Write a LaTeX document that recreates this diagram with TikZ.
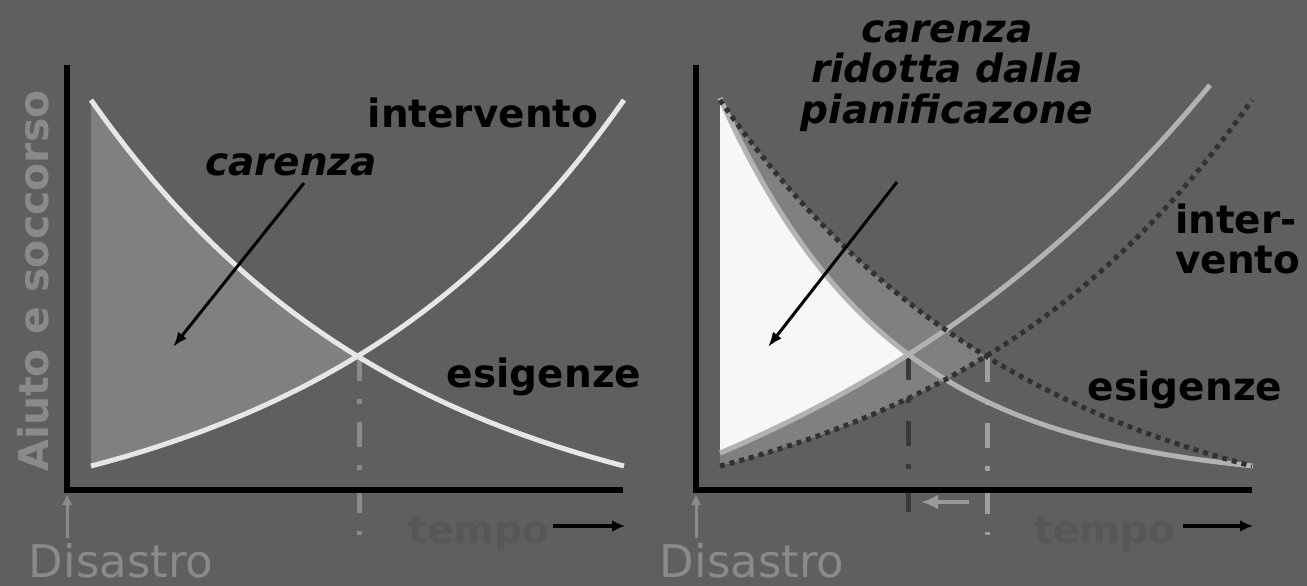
\documentclass[tikz,border=0pt]{standalone}
\usepackage{fontspec}
\setmainfont{DejaVu Sans}[ItalicFont={* Oblique},BoldFont={* Bold},BoldItalicFont={* Bold Oblique}]
\usepackage{tikz}
\usetikzlibrary{arrows.meta,positioning}

\definecolor{bgGray}{RGB}{95,95,95}
\definecolor{gapGray}{RGB}{128,128,128}
\definecolor{curveWhite}{RGB}{230,230,230}
\definecolor{planGray}{RGB}{178,178,178}
\definecolor{baseDark}{RGB}{50,50,50}
\definecolor{faintGray}{RGB}{138,138,138}
\definecolor{tempoGray}{RGB}{87,87,87}

\begin{document}
\begin{tikzpicture}[x=1pt, y=-1pt,
    every node/.style={inner sep=0pt, font=\bfseries\fontsize{39}{40}\selectfont},
    declare function={
        decay(\s,\q)=(exp(-\q*\s)-exp(-\q))/(1-exp(-\q));
        grow(\s,\q)=(exp(\q*\s)-1)/(exp(\q)-1);
        needL(\x)=466-366*decay((\x-91)/533,1.695);
        aidL(\x)=466-366*decay((624-\x)/533,1.695);
        needPlan(\x)=466-368*decay((\x-720)/533,3.1);
        aidPlan(\x)=453-368*grow((\x-720)/490,1.05);
        needBase(\x)=466-366*decay((\x-720)/532,1.695);
        aidBase(\x)=466-366*decay((1252-\x)/532,1.695);
    },
    axis/.style={line width=5.5pt},
    curveL/.style={curveWhite, line width=5pt},
    curvePlan/.style={planGray, line width=5pt},
    curveBase/.style={baseDark, line width=5pt, dash pattern=on 5pt off 5pt},
    guide/.style={line width=5pt, dash pattern=on 25pt off 18pt on 5pt off 18pt},
    arr/.style={-{Latex[length=15pt,width=11pt]}, line width=3pt},
    timeArr/.style={-{Latex[length=13pt,width=12pt]}, line width=4pt},
    disArr/.style={faintGray, -{Latex[length=11pt,width=11pt]}, line width=3pt},
    lblit/.style={font=\bfseries\itshape\fontsize{39}{40}\selectfont},
    faint/.style={faintGray, font=\fontsize{45}{46}\selectfont}]

    % background and page size
    \fill[bgGray] (0,0) rectangle (1307,586);
    \useasboundingbox (0,0) rectangle (1307,586);

    % ---- left panel: shortage area
    \fill[gapGray] plot[domain=91:357.5, samples=60] (\x,{needL(\x)})
        -- plot[domain=357.5:91, samples=60] (\x,{aidL(\x)}) -- cycle;
    \coordinate (crossL) at (359,356);
    \draw[guide, faintGray] (crossL) -- (359,535);

    % needs and relief curves
    \draw[curveL] plot[domain=91:624, samples=100] (\x,{needL(\x)});
    \draw[curveL] plot[domain=91:624, samples=100] (\x,{aidL(\x)});

    % axes
    \draw[axis] (67,65) |- (623,490);

    % labels
    \node[rotate=90, faintGray, font=\bfseries\fontsize{41}{42}\selectfont] (aiuto) at (33,281) {Aiuto e soccorso};
    \node[anchor=base] (intervL) at (483,128) {intervento};
    \node[lblit, anchor=base] (carL) at (291,175) {carenza};
    \node[anchor=base] (esigL) at (544,387) {esigenze};
    \node[tempoGray, anchor=base] (tempoL) at (479,543) {tempo};
    \node[faint, anchor=base] (disL) at (121,577) {Disastro};

    \coordinate (carFromL) at (304,183);
    \coordinate (carToL) at (173,347);
    \draw[arr] (carFromL) -- (carToL);
    \coordinate (tFromL) at (553,526);
    \coordinate (tToL) at (625,526);
    \draw[timeArr] (tFromL) -- (tToL);
    \coordinate (dFromL) at (67,538);
    \coordinate (dToL) at (67,494);
    \draw[disArr] (dFromL) -- (dToL);

    % ---- right panel: shortage without and with planning
    \fill[gapGray] plot[domain=720:986, samples=60] (\x,{needBase(\x)})
        -- plot[domain=986:720, samples=60] (\x,{aidBase(\x)}) -- cycle;
    \fill[white!97!black] plot[domain=720:908, samples=60] (\x,{needPlan(\x)})
        -- plot[domain=908:720, samples=60] (\x,{aidPlan(\x)}) -- cycle;

    \coordinate (crossPlan) at (908,355);
    \coordinate (crossBase) at (987,357);
    \draw[guide, gray!45!black] (crossPlan) -- (908,513);
    \draw[guide, gray!75] (crossBase) -- (987,535);

    \draw[curvePlan] plot[domain=720:1253, samples=100] (\x,{needPlan(\x)});
    \draw[curvePlan] plot[domain=720:1210, samples=100] (\x,{aidPlan(\x)});
    \draw[curveBase] plot[domain=720:1252, samples=100] (\x,{needBase(\x)});
    \draw[curveBase] plot[domain=720:1252, samples=100] (\x,{aidBase(\x)});

    % axes
    \draw[axis] (696,65) |- (1252,490);

    % labels
    \node[lblit, anchor=base] (carR1) at (947,43) {carenza};
    \node[lblit, anchor=base] (carR2) at (947,83) {ridotta dalla};
    \node[lblit, anchor=base] (carR3) at (947,123) {pianificazone};
    \node[anchor=base west] (interR1) at (1175,233) {inter-};
    \node[anchor=base west] (interR2) at (1175,273) {vento};
    \node[anchor=base] (esigR) at (1185,400) {esigenze};
    \node[tempoGray, anchor=base] (tempoR) at (1105,543) {tempo};
    \node[faint, anchor=base] (disR) at (752,577) {Disastro};

    \coordinate (carFromR) at (897,182);
    \coordinate (carToR) at (768,347);
    \draw[arr] (carFromR) -- (carToR);
    \coordinate (shiftFrom) at (969,502);
    \coordinate (shiftTo) at (921,502);
    \draw[-{Latex[length=17pt,width=15pt]}, line width=4pt, gray!80] (shiftFrom) -- (shiftTo);
    \coordinate (tFromR) at (1183,526);
    \coordinate (tToR) at (1253,526);
    \draw[timeArr] (tFromR) -- (tToR);
    \coordinate (dFromR) at (696,538);
    \coordinate (dToR) at (696,494);
    \draw[disArr] (dFromR) -- (dToR);
\end{tikzpicture}
\end{document}
